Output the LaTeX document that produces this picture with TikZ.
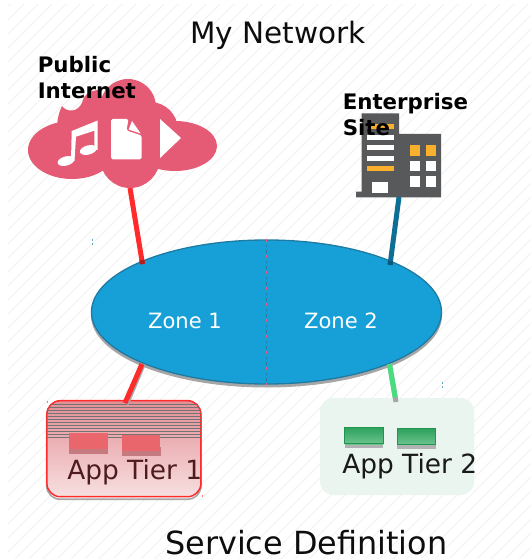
\documentclass[tikz,border=0pt]{standalone}
\usepackage{fontspec}
\setmainfont{DejaVu Sans}
\usetikzlibrary{shapes.geometric,shadings,calc}
\definecolor{cloudc}{HTML}{E55A75}
\definecolor{zonec}{HTML}{17A0D8}
\definecolor{zoneb}{HTML}{1F7BA3}
\definecolor{bldg}{HTML}{58595B}
\definecolor{amber}{HTML}{FBB02D}
\definecolor{linkred}{HTML}{FF2A2A}
\definecolor{linkblue}{HTML}{0F6E96}
\definecolor{linkgreen}{HTML}{48DE80}
\definecolor{hatchc}{HTML}{F1F1F1}
\definecolor{tiertop}{HTML}{E38E95}
\definecolor{tiermid}{HTML}{E9A3A8}
\definecolor{tierbot}{HTML}{F7E0E0}
\definecolor{srvred}{HTML}{E9666C}
\definecolor{srvshade}{HTML}{C57A80}
\definecolor{maroon}{HTML}{4E1C1F}
\definecolor{srvgreen}{HTML}{1F9550}
\definecolor{srvtop}{HTML}{2FA25E}
\definecolor{srvbot}{HTML}{6CC48E}
\definecolor{tiertwo}{HTML}{EBF5EF}
\tikzset{
  title/.style={anchor=base west,inner sep=0pt,font=\fontsize{22.1}{26}\selectfont,text=black!95},
  titleb/.style={title,font=\fontsize{23.9}{28}\selectfont},
  tierlabel/.style={anchor=base west,inner sep=0pt,font=\fontsize{19.8}{23}\selectfont},
  zonelabel/.style={anchor=base,inner sep=0pt,text=white,font=\fontsize{15.8}{19}\selectfont},
  sitelabel/.style={anchor=base west,inner sep=0pt,align=left,font=\fontsize{16}{19.5}\selectfont\bfseries},
  link/.style={line width=3.75pt},
  tierbox/.style={rectangle,rounded corners=10pt,minimum width=115.5pt,minimum height=72pt,inner sep=0pt},
  srv/.style={rectangle,minimum width=28.8pt,minimum height=12pt,inner sep=0pt},
  speck/.style={line width=.6pt,draw=zoneb!70}
}
\begin{document}
\begin{tikzpicture}[x=.75pt,y=-.75pt]
\useasboundingbox (0,0) rectangle (531,559);
% hatch background
\begin{scope}
\clip (8,5) rectangle (531,559);
\foreach \k in {0,14,...,1120}{\draw[hatchc,line width=.7pt] (\k,0) -- (\k-600,600);}
\end{scope}
% titles
\node[title] (t1) at (190,44) {My Network};
\node[titleb] (t2) at (165,554) {Service Definition};
% cloud
\begin{scope}
\fill[cloudc] (72,150) ellipse [x radius=44,y radius=29];
\fill[cloudc] (175,146) ellipse [x radius=42,y radius=25];
\fill[cloudc] (130,158) circle [radius=30];
\fill[cloudc] (128,107) circle [radius=28];
\fill[cloudc] (150,130) circle [radius=28];
\fill[cloudc] (110,130) circle [radius=30];
\fill[cloudc] (57,128) .. controls (57,120) and (59,112) .. (62,106)
  .. controls (66,112) and (79,114) .. (83,100)
  .. controls (84,95) and (90,90) .. (100,90) -- (110,140) -- (70,140) -- cycle;
\fill[white] (160,119) -- (181,138) -- (160,158) -- cycle;
% document
\fill[white,rounded corners=1.2pt] (111,119) -- (128.5,119) -- (126.5,130.5) -- (141.7,135.5) -- (141.7,159.3) -- (111,159.3) -- cycle;
\fill[white] (132,121) -- (140.7,133.5) -- (128.7,129.5) -- cycle;
% music
\fill[white] (71.7,131) -- (97.7,120.5) -- (97.7,150) -- (94.3,150) -- (94.3,130.7) -- (76,136.7) -- (74.5,161) -- (71,161) -- cycle;
\fill[white,shift={(66,161)},rotate=15] (0,0) ellipse [x radius=8.6,y radius=4.6];
\fill[white,shift={(88.3,150)},rotate=15] (0,0) ellipse [x radius=8.6,y radius=4.6];
\end{scope}
\coordinate (cloudport) at (130,188);
% building
\fill[bldg] (361.7,113.3) -- (399,113.3) -- (399,134) -- (441,134) -- (441,197.3) -- (356,197.3) -- (356,191.7) -- (361.7,191.7) -- cycle;
\foreach \y/\c in {124/amber,134.7/white,145.3/white,155.7/white,166/amber}{\fill[\c] (367,\y) rectangle (393.7,\y+5);}
\fill[white] (372.3,182) rectangle (388.3,192.7);
\foreach \x in {409.7,425.7}{
  \fill[amber] (\x,145.3) rectangle (\x+10.7,155.7);
  \fill[white] (\x,160.7) rectangle (\x+10.7,171.3);
  \fill[white] (\x,176.3) rectangle (\x+10.7,187);
}
\coordinate (siteport) at (399,197);
% labels over icons
\node[sitelabel] (pub) at (37.5,98.8) {Public\\Internet};
\node[sitelabel] (ent) at (342.5,135.8) {Enterprise\\Site};
% zones ellipse
\fill[gray!70] (266.5,315.5) ellipse [x radius=175.5,y radius=72];
\node[ellipse,draw=zoneb,fill=zonec,line width=1pt,minimum width=262.5pt,minimum height=108pt,inner sep=0pt] (zones) at (266.5,312) {};
\draw[zoneb,line width=.9pt,dash pattern=on 2pt off 2pt] (zones.north) -- (zones.south);
\draw[cloudc,line width=.9pt,dash pattern=on 2pt off 10pt] (zones.north) -- (zones.south);
\node[zonelabel] (z1) at (185,328) {Zone 1};
\node[zonelabel] (z2) at (341,328) {Zone 2};
\coordinate (zoneNW) at (142.5,264);
\coordinate (zoneNE) at (390,265);
\coordinate (zoneSW) at (142,364);
\coordinate (zoneSE) at (389.5,364);
% tier 1
\draw[gray!70,line width=1.2pt,rounded corners=10pt] (46.7,403.2) rectangle (201,499.2);
\shade[rounded corners=10pt,top color=tiertop,middle color=tiermid,bottom color=tierbot] (46.7,400.7) rectangle (201,496.7);
\node[tierbox,draw=linkred,line width=1.1pt] (tier1) at (123.9,448.7) {};
\begin{scope}
\clip[rounded corners=10pt] (46.7,400.7) rectangle (201,496.7);
\foreach \y in {404,407,...,437}{\draw[black!55,line width=.4pt] (46,\y) -- (202,\y);}
\end{scope}
\fill[srvshade] (69.3,445) rectangle (107.7,454);
\fill[srvshade] (121.7,447) rectangle (160.7,455.5);
\node[srv,fill=srvred,minimum height=12.7pt] (s1) at (88.5,441) {};
\node[srv,fill=srvred,minimum height=12.7pt] (s2) at (141.2,443) {};
\node[tierlabel,text=maroon] (l1) at (67,479) {App Tier 1};
\coordinate (tier1port) at (125,403);
% tier 2
\fill[tiertwo,rounded corners=10pt] (320,398) rectangle (474,495);
\fill[gray!60] (345,440) rectangle (383.3,448);
\fill[gray!60] (397.3,440) rectangle (435.7,449);
\shade[top color=srvtop,bottom color=srvbot] (345,427.7) rectangle (383.3,444);
\shade[top color=srvtop,bottom color=srvbot] (397.3,429) rectangle (435.7,444.7);
\node[srv,draw=srvgreen,line width=.8pt] (s3) at (364.1,435.8) {};
\node[srv,draw=srvgreen,line width=.8pt] (s4) at (416.5,436.8) {};
\node[tierlabel,text=black!90] (l2) at (342,473) {App Tier 2};
\coordinate (tier2port) at (396,402);
% connectors
\draw[link,gray!70] ([xshift=1pt]zoneSW) -- ([xshift=1pt,yshift=-1pt]tier1port);
\draw[link,gray!70] (zoneSE) -- (tier2port);
\draw[link,linkred] (cloudport) -- (zoneNW);
\draw[link,linkblue] (siteport) -- (zoneNE);
\draw[link,linkred] (zoneSW) -- (tier1port);
\draw[link,linkgreen] (zoneSE) -- ($(tier2port)!.12!(zoneSE)$);
\draw[link,linkred!70!black] (zoneNW) -- ++(-.8,-4);
\draw[link,linkblue!80!black] (zoneNE) -- ++(.6,-4);
% specks
\draw[speck] (92,239) -- (92,241) (92,243) -- (92,245);
\draw[speck] (442,382) -- (442,384) (442,386) -- (442,388);
\draw[speck,draw=red!50] (47.5,401) -- (47.5,403);
\draw[speck,draw=red!50] (202,495) -- (202,497);
\end{tikzpicture}
\end{document}
